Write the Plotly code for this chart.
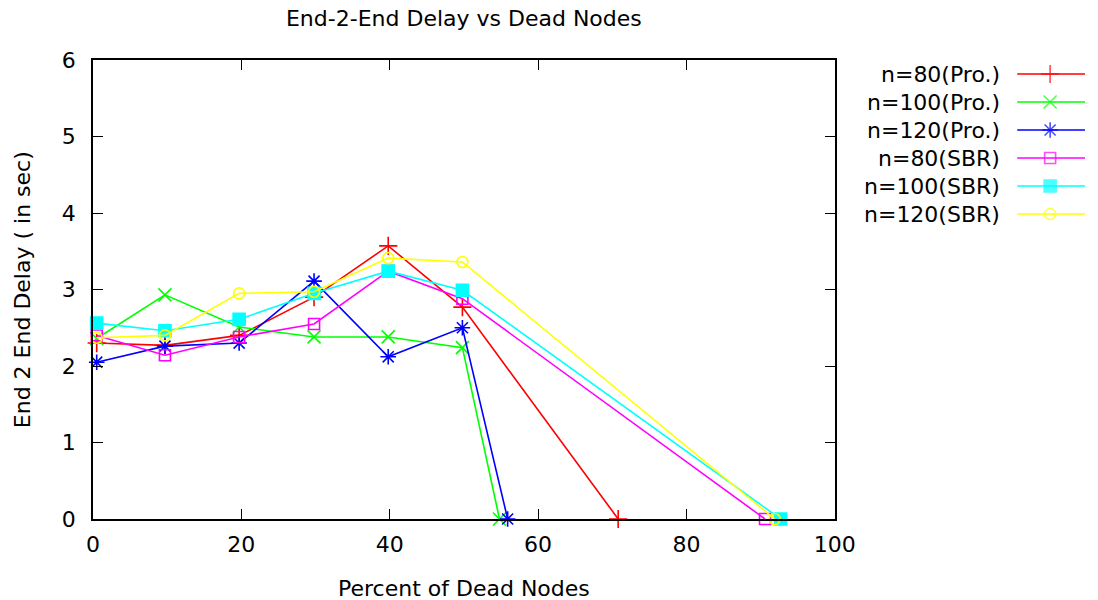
import plotly.graph_objects as go

# ---- data ----
x_pro80 = [0.5, 9.7, 19.7, 29.8, 39.8, 49.8, 70.8]
y_pro80 = [2.30, 2.27, 2.40, 2.90, 3.57, 2.77, 0]
x_pro100 = [0.5, 9.7, 19.7, 29.8, 39.8, 49.8, 54.8]
y_pro100 = [2.36, 2.93, 2.51, 2.38, 2.38, 2.24, 0]
x_pro120 = [0.5, 9.7, 19.7, 29.8, 39.8, 49.8, 55.9]
y_pro120 = [2.05, 2.26, 2.30, 3.11, 2.12, 2.50, 0]
x_sbr80 = [0.5, 9.7, 19.7, 29.8, 39.8, 49.8, 90.6]
y_sbr80 = [2.40, 2.14, 2.38, 2.55, 3.24, 2.88, 0]
x_sbr100 = [0.5, 9.7, 19.7, 29.8, 39.8, 49.8, 92.7]
y_sbr100 = [2.56, 2.46, 2.61, 2.95, 3.24, 2.99, 0]
x_sbr120 = [0.5, 9.7, 19.7, 29.8, 39.8, 49.8, 91.9]
y_sbr120 = [2.37, 2.40, 2.95, 2.97, 3.41, 3.36, 0]

names = ["n=80(Pro.)", "n=100(Pro.)", "n=120(Pro.)", "n=80(SBR)", "n=100(SBR)", "n=120(SBR)"]
xs = [x_pro80, x_pro100, x_pro120, x_sbr80, x_sbr100, x_sbr120]
ys = [y_pro80, y_pro100, y_pro120, y_sbr80, y_sbr100, y_sbr120]
colors = ["#ff0000", "#00ff00", "#0000ff", "#ff00ff", "#00ffff", "#ffff00"]
symbols = ["cross-thin", "x-thin", "asterisk-open", "square-open", "square", "circle-open"]
sizes = [13, 13, 13, 11, 12, 11]

title_text = "End-2-End Delay vs Dead Nodes"
x_title = "Percent of Dead Nodes"
y_title = "End 2 End Delay ( in sec)"

FONT = "DejaVu Sans"

fig = go.Figure()
for x, y, n, c, s, sz in zip(xs, ys, names, colors, symbols, sizes):
    fig.add_trace(go.Scatter(
        x=x, y=y, mode="lines+markers", name=n, showlegend=False,
        line=dict(color=c, width=1.6),
        marker=dict(symbol=s, size=sz, color=c, line=dict(color=c, width=1.6)),
        cliponaxis=False,
    ))

# layout geometry: target picture is 1098 wide; page is rendered ~1118 wide and
# resized, so horizontal figure pixels are stretched by 1/S.
S = 1098 / 1118
W, H = 1118, 600
L, R, T, B = 91 / S, 8 / S, 60, H - 519
pw = W - L - R
ph = H - T - B
main_right = (835 / S - L) / pw
leg_left = 850
leg_dom0 = (leg_left / S - L) / pw

# custom gnuplot-style legend in a side axis whose units are target pixels
leg_y = [74, 102, 130, 158, 186, 214]
for i, (n, c, s, sz) in enumerate(zip(names, colors, symbols, sizes)):
    fig.add_trace(go.Scatter(
        x=[1018, 1051, 1086], y=[leg_y[i]] * 3, xaxis="x2", yaxis="y2",
        mode="lines+markers", showlegend=False, hoverinfo="skip",
        line=dict(color=c, width=1.6),
        marker=dict(symbol=s, size=[0, sz, 0], color=c, line=dict(color=c, width=1.6)),
        cliponaxis=False,
    ))
    fig.add_annotation(x=1003, y=leg_y[i], xref="x2", yref="y2", text=n,
                       showarrow=False, xanchor="right", yanchor="middle",
                       font=dict(family=FONT, size=22, color="#000"))

axis_common = dict(showline=True, linecolor="black", linewidth=1.5, mirror="allticks",
                   ticks="inside", ticklen=10, tickwidth=1.2, tickcolor="black",
                   showgrid=False, zeroline=False,
                   tickfont=dict(family=FONT, size=22, color="#000"))

fig.update_layout(
    width=W, height=H,
    margin=dict(l=L, r=R, t=T, b=B),
    plot_bgcolor="rgba(0,0,0,0)", paper_bgcolor="white",
    xaxis=dict(domain=[0, main_right], range=[0, 100], dtick=20, tick0=0,
               ticklabelstandoff=5, **axis_common),
    yaxis=dict(range=[0, 6], dtick=1, tick0=0, ticklabelstandoff=11, **axis_common),
    xaxis2=dict(domain=[leg_dom0, 1], range=[leg_left, 1098 - 8], visible=False,
                anchor="y2", fixedrange=True),
    yaxis2=dict(domain=[0, 1], range=[519, 60], visible=False, anchor="x2", fixedrange=True),
    title=dict(text=title_text, x=0.5 * main_right, xref="paper", xanchor="center",
               y=1 - 18 / H, yref="container", yanchor="middle",
               font=dict(family=FONT, size=22, color="#000")),
    showlegend=False,
)

fig.add_annotation(text=x_title, xref="paper", yref="paper",
                   x=0.5 * main_right, y=-(588 - 519) / ph,
                   showarrow=False, xanchor="center", yanchor="middle",
                   font=dict(family=FONT, size=22, color="#000"))
fig.add_annotation(text=y_title, xref="paper", yref="paper",
                   x=-(L - 20 / S) / pw, y=(519 - 290) / ph,
                   showarrow=False, xanchor="center", yanchor="middle", textangle=-90,
                   font=dict(family=FONT, size=22, color="#000"))

fig.write_html("out.html", config={"displayModeBar": False},
               post_script="document.body.style.margin='0';document.body.style.overflow='hidden';")
